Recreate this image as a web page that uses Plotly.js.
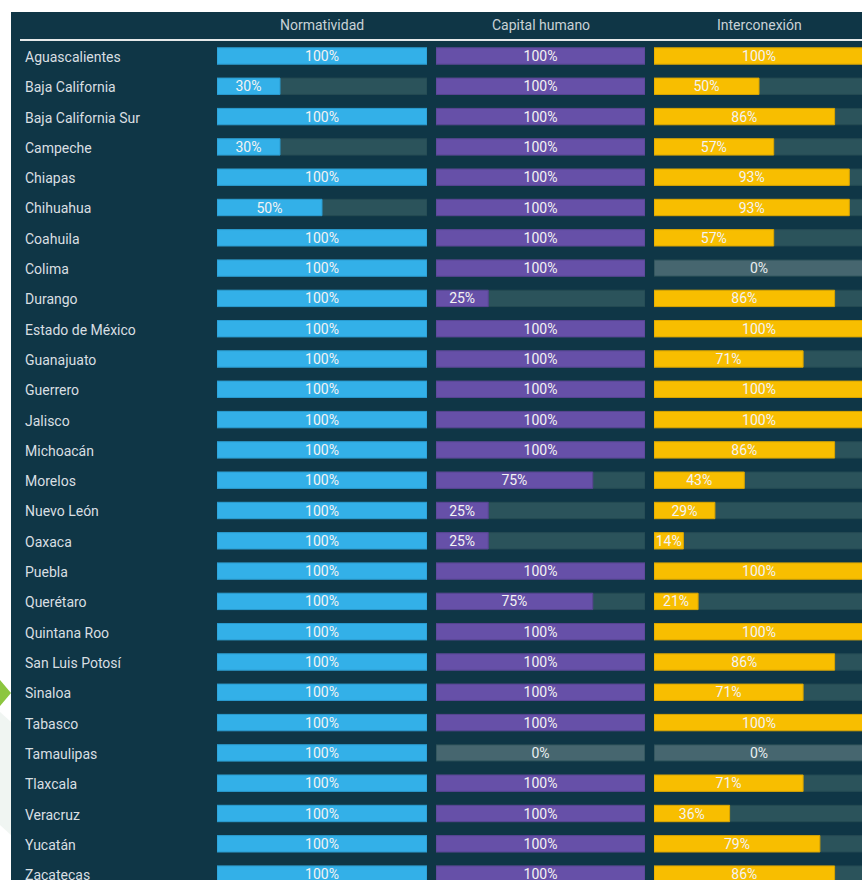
<!DOCTYPE html>
<html>
<head>
<meta charset="utf-8">
<script src="https://cdn.plot.ly/plotly-3.0.1.min.js"></script>
<style>html,body{margin:0;padding:0;background:#fff;}#chart{width:862px;height:880px;}</style>
</head>
<body>
<div id="chart"></div>
<script>
const categories = ["Aguascalientes","Baja California","Baja California Sur","Campeche","Chiapas","Chihuahua","Coahuila","Colima","Durango","Estado de México","Guanajuato","Guerrero","Jalisco","Michoacán","Morelos","Nuevo León","Oaxaca","Puebla","Querétaro","Quintana Roo","San Luis Potosí","Sinaloa","Tabasco","Tamaulipas","Tlaxcala","Veracruz","Yucatán","Zacatecas"];
const columnTitles = ["Normatividad","Capital humano","Interconexión"];
const normatividad = [100,30,100,30,100,50,100,100,100,100,100,100,100,100,100,100,100,100,100,100,100,100,100,100,100,100,100,100];
const capitalHumano = [100,100,100,100,100,100,100,100,25,100,100,100,100,100,75,25,25,100,75,100,100,100,100,0,100,100,100,100];
const interconexion = [100,50,86,57,93,93,57,0,86,100,71,100,100,86,43,29,14,100,21,100,86,71,100,0,71,36,79,86];

const W = 862, H = 880;
const px = v => v / W;
const py = v => 1 - v / H;

const series = [normatividad, capitalHumano, interconexion];
const fillColors = ["#33b0e8", "#6650a8", "#f8be00"];
const lineColors = ["#2a9bd0", "#574492", "#d9a400"];
const trackColor = "#2b535b";
const zeroTrack = "#46666f";
const axisNames = ["x", "x2", "x3"];
const colPx = [[217, 427], [436, 645], [654, 864]];

const font = "Roboto, 'Open Sans', sans-serif";
const traces = [];
series.forEach((vals, c) => {
  traces.push({
    type: "bar", orientation: "h", y: categories,
    x: vals.map(() => 100),
    xaxis: axisNames[c], yaxis: "y",
    width: 0.54,
    marker: {color: vals.map(v => v === 0 ? zeroTrack : trackColor), line: {color: "#244a53", width: 1}},
    text: vals.map(v => v === 0 ? "0%" : ""),
    textposition: "inside", insidetextanchor: "middle", textangle: 0, constraintext: "none",
    textfont: {color: "#e9eef0", size: 14, family: font},
    hoverinfo: "skip", showlegend: false
  });
  traces.push({
    type: "bar", orientation: "h", y: categories,
    x: vals,
    xaxis: axisNames[c], yaxis: "y",
    width: 0.54,
    marker: {color: fillColors[c], line: {color: lineColors[c], width: vals.map(v => v > 0 ? 1 : 0)}},
    text: vals.map(v => v > 0 ? v + "%" : ""),
    textposition: "inside", insidetextanchor: "middle", textangle: 0, constraintext: "none",
    textfont: {color: "#f3f3f3", size: 14, family: font},
    hoverinfo: "skip", showlegend: false
  });
});

const layout = {
  width: W, height: H,
  margin: {l: 0, r: 0, t: 0, b: 0},
  paper_bgcolor: "#ffffff", plot_bgcolor: "rgba(0,0,0,0)",
  barmode: "overlay",
  font: {family: font},
  yaxis: {
    domain: [0, py(40.85)],
    range: [(H - 56) / 30.3, -0.5],
    showticklabels: false, showgrid: false, zeroline: false, fixedrange: true
  },
  shapes: [
    {type: "rect", xref: "paper", yref: "paper", x0: px(11), x1: 1, y0: 0, y1: py(12), fillcolor: "#0f3646", line: {width: 0}, layer: "below"},
    {type: "line", xref: "paper", yref: "paper", x0: px(20), x1: 1, y0: py(40), y1: py(40), line: {color: "#e6e9ea", width: 2}},
    {type: "path", xref: "paper", yref: "paper", path: `M 0 ${py(680)} L ${px(11)} ${py(693)} L 0 ${py(706)} Z`, fillcolor: "#8cc63f", line: {width: 0}},
    {type: "path", xref: "paper", yref: "paper", path: `M 0 ${py(712)} L ${px(11)} ${py(722)} L ${px(11)} ${py(835)} L 0 ${py(825)} Z`, fillcolor: "#f0f5f2", line: {width: 0}, layer: "below"}
  ],
  annotations: []
};

axisNames.forEach((a, c) => {
  const key = a === "x" ? "xaxis" : "xaxis" + a.slice(1);
  const [p0, p1] = colPx[c];
  const d1 = Math.min(p1, W);
  layout[key] = {
    domain: [px(p0), px(d1)],
    range: [0, 100 * (d1 - p0) / (p1 - p0)],
    anchor: "y", visible: false, fixedrange: true
  };
  layout.annotations.push({
    xref: "paper", yref: "paper", x: px((p0 + p1) / 2), y: py(25),
    text: columnTitles[c], showarrow: false, xanchor: "center", yanchor: "middle",
    font: {color: "#c9d2d6", size: 14, family: font}
  });
});

categories.forEach(cat => {
  layout.annotations.push({
    xref: "paper", yref: "y", x: px(23), y: cat, yshift: -1,
    text: cat, showarrow: false, xanchor: "left", yanchor: "middle",
    font: {color: "#d9dfe2", size: 14, family: font}
  });
});

Plotly.newPlot("chart", traces, layout, {displayModeBar: false, staticPlot: true});
</script>
</body>
</html>
